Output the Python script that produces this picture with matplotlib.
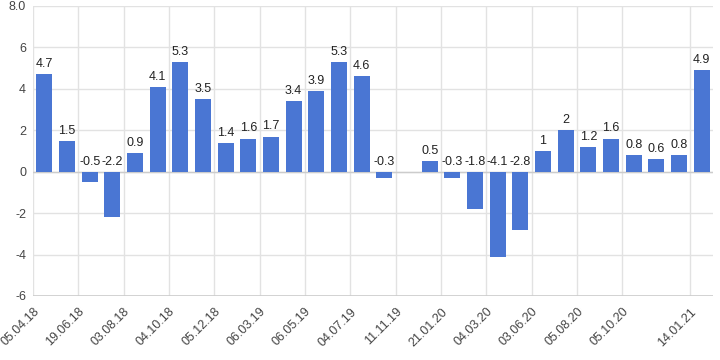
import matplotlib
matplotlib.use("Agg")
import matplotlib.pyplot as plt
import numpy as np

plt.rcParams['font.family'] = ['Liberation Sans', 'DejaVu Sans']

# one slot per date, None where there is no value
values = [4.7, 1.5, -0.5, -2.2, 0.9, 4.1, 5.3, 3.5, 1.4, 1.6, 1.7, 3.4, 3.9, 5.3, 4.6, -0.3,
          None, 0.5, -0.3, -1.8, -4.1, -2.8, 1, 2, 1.2, 1.6, 0.8, 0.6, 0.8, 4.9]
tick_slots = [0, 2, 4, 6, 8, 10, 12, 14, 16, 18, 20, 22, 24, 26, 29]
tick_labels = ['05.04.18', '19.06.18', '03.08.18', '04.10.18', '05.12.18', '06.03.19',
               '06.05.19', '04.07.19', '11.11.19', '21.01.20', '04.03.20', '03.06.20',
               '05.08.20', '05.10.20', '14.01.21']
y_ticks = [-6, -4, -2, 0, 2, 4, 6, 8]
y_tick_labels = ['-6', '-4', '-2', '0', '2', '4', '6', '8.0']

fig = plt.figure(figsize=(7.2, 3.6), dpi=100)
ax = fig.add_axes([33/720, 1 - 296/360, 680/720, 290/360])

xs = [i for i, v in enumerate(values) if v is not None]
vals = [v for v in values if v is not None]
ax.bar(xs, vals, width=0.7, color='#4a76d3', zorder=3, edgecolor='none')

for x, v in zip(xs, vals):
    lbl = ('%g' % v)
    y = v if v > 0 else 0
    ax.text(x, y + 0.2, lbl, ha='center', va='bottom', fontsize=9, color='#222222', zorder=4)

ax.set_xlim(-0.5, len(values) - 0.5)
ax.set_ylim(-6, 8)
ax.set_xticks([s - 0.5 for s in tick_slots])
ax.set_xticklabels(tick_labels, rotation=45, ha='right', rotation_mode='anchor',
                   fontsize=9, color='#444444')
ax.set_yticks(y_ticks)
ax.set_yticklabels(y_tick_labels, fontsize=9, color='#444444')
ax.tick_params(length=0, pad=5)
ax.tick_params(axis='x', pad=7)

ax.grid(True, color='#e2e2e2', linewidth=1, zorder=0)
ax.axhline(0, color='#cccccc', linewidth=1, zorder=2)
for s in ax.spines.values():
    s.set_visible(False)
ax.axhline(-6, color='#cccccc', linewidth=1.2, zorder=2)

fig.savefig('out.png', dpi=100)
